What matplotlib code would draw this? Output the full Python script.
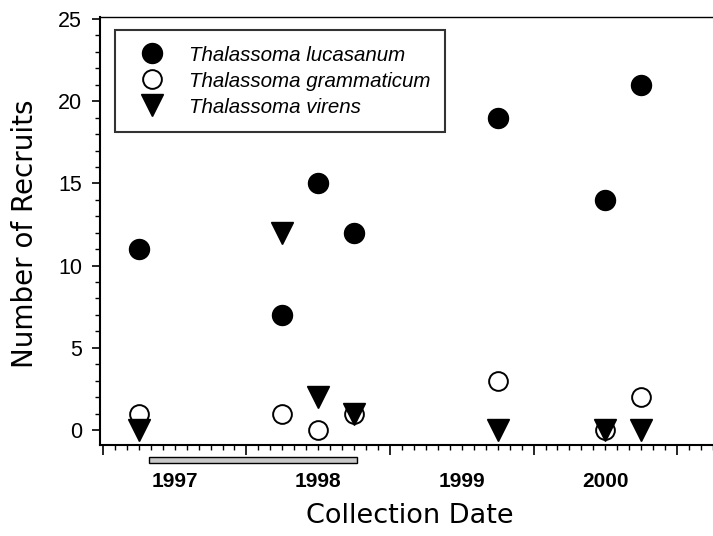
import matplotlib
matplotlib.use("Agg")
import matplotlib.pyplot as plt
from matplotlib.patches import Rectangle
import numpy as np

# fechas de colecta (años decimales) y número de reclutas por especie
fechas = [1997.25, 1998.25, 1998.5, 1998.75, 1999.75, 2000.5, 2000.75]
lucasanum = [11, 7, 15, 12, 19, 14, 21]
grammaticum = [1, 1, 0, 1, 3, 0, 2]
virens = [0, 12, 2, 1, 0, 0, 0]

especies = ["Thalassoma lucasanum", "Thalassoma grammaticum", "Thalassoma virens"]
anios = [1997, 1998, 1999, 2000]

# periodo de El Niño (barra gris bajo el eje)
nino_inicio, nino_fin = 1997.32, 1998.77

fig = plt.figure(figsize=(7.13, 5.36), dpi=100)
ax = fig.add_axes([100 / 713, 1 - 445 / 536, 613 / 713, 428 / 536])

ax.plot(fechas, lucasanum, 'o', color='black', ms=14.4, label=especies[0], zorder=3)
ax.plot(fechas, grammaticum, 'o', mfc='white', mec='black', mew=1.4, ms=13.5,
        label=especies[1], zorder=4)
ax.plot(fechas, virens, 'v', color='black', ms=15.5, label=especies[2], zorder=5)

ax.set_xlim(1996.98, 2001.207)
ax.set_ylim(-0.91, 25.12)

# ejes
ax.spines['right'].set_visible(False)
ax.spines['left'].set_linewidth(1.5)
ax.spines['bottom'].set_linewidth(1.5)
ax.spines['top'].set_linewidth(1.0)

ax.set_yticks(range(0, 26, 5))
ax.set_yticks(range(0, 26), minor=True)
ax.tick_params(axis='y', which='major', direction='out', length=6, width=1.2, pad=7,
               labelsize=15.5)
ax.tick_params(axis='y', which='minor', direction='out', length=3.5, width=1.0)
for t in ax.get_yticklabels():
    t.set_fontfamily('Liberation Sans')

# años: ticks largos en los límites, etiquetas a mitad de año
ax.set_xticks(anios + [anios[-1] + 1])
ax.set_xticklabels([])
meses = np.arange(anios[0], anios[-1] + 1.3, 1 / 12)
etiquetas = []
for m in meses:
    if abs((m - 0.5) - round(m - 0.5)) < 1e-6 and int(round(m - 0.5)) in anios:
        etiquetas.append(str(int(round(m - 0.5))))
    else:
        etiquetas.append("")
ax.set_xticks(meses, labels=etiquetas, minor=True)
ax.tick_params(axis='x', which='major', direction='out', length=7, width=1.2)
ax.tick_params(axis='x', which='minor', direction='out', length=3.5, width=1.0, pad=16,
               labelsize=15)
for t in ax.get_xticklabels(minor=True):
    t.set_fontfamily('Liberation Sans')
    t.set_fontweight('bold')

ax.add_patch(Rectangle((nino_inicio, -0.042), nino_fin - nino_inicio, 0.014,
                       transform=ax.get_xaxis_transform(), clip_on=False,
                       facecolor='#c8c8c8', edgecolor='black', lw=1.0))

ax.set_xlabel("Collection Date", fontsize=19.5, family='DejaVu Sans')
ax.xaxis.set_label_coords(0.506, -0.135)
ax.set_ylabel("Number of Recruits", fontsize=20, family='DejaVu Sans')
ax.yaxis.set_label_coords(-0.1, 0.493)

leg = ax.legend(loc='upper left', bbox_to_anchor=(0.0245, 0.9696), borderaxespad=0,
                frameon=True, fancybox=False, numpoints=1, borderpad=0.7,
                handlelength=2.16, handletextpad=0.75, labelspacing=0.3,
                handleheight=1.0,
                prop={'family': 'Liberation Sans', 'style': 'italic', 'size': 14.8})
leg.get_frame().set_edgecolor('black')
leg.get_frame().set_linewidth(1.5)

fig.savefig("out.png", dpi=100)
